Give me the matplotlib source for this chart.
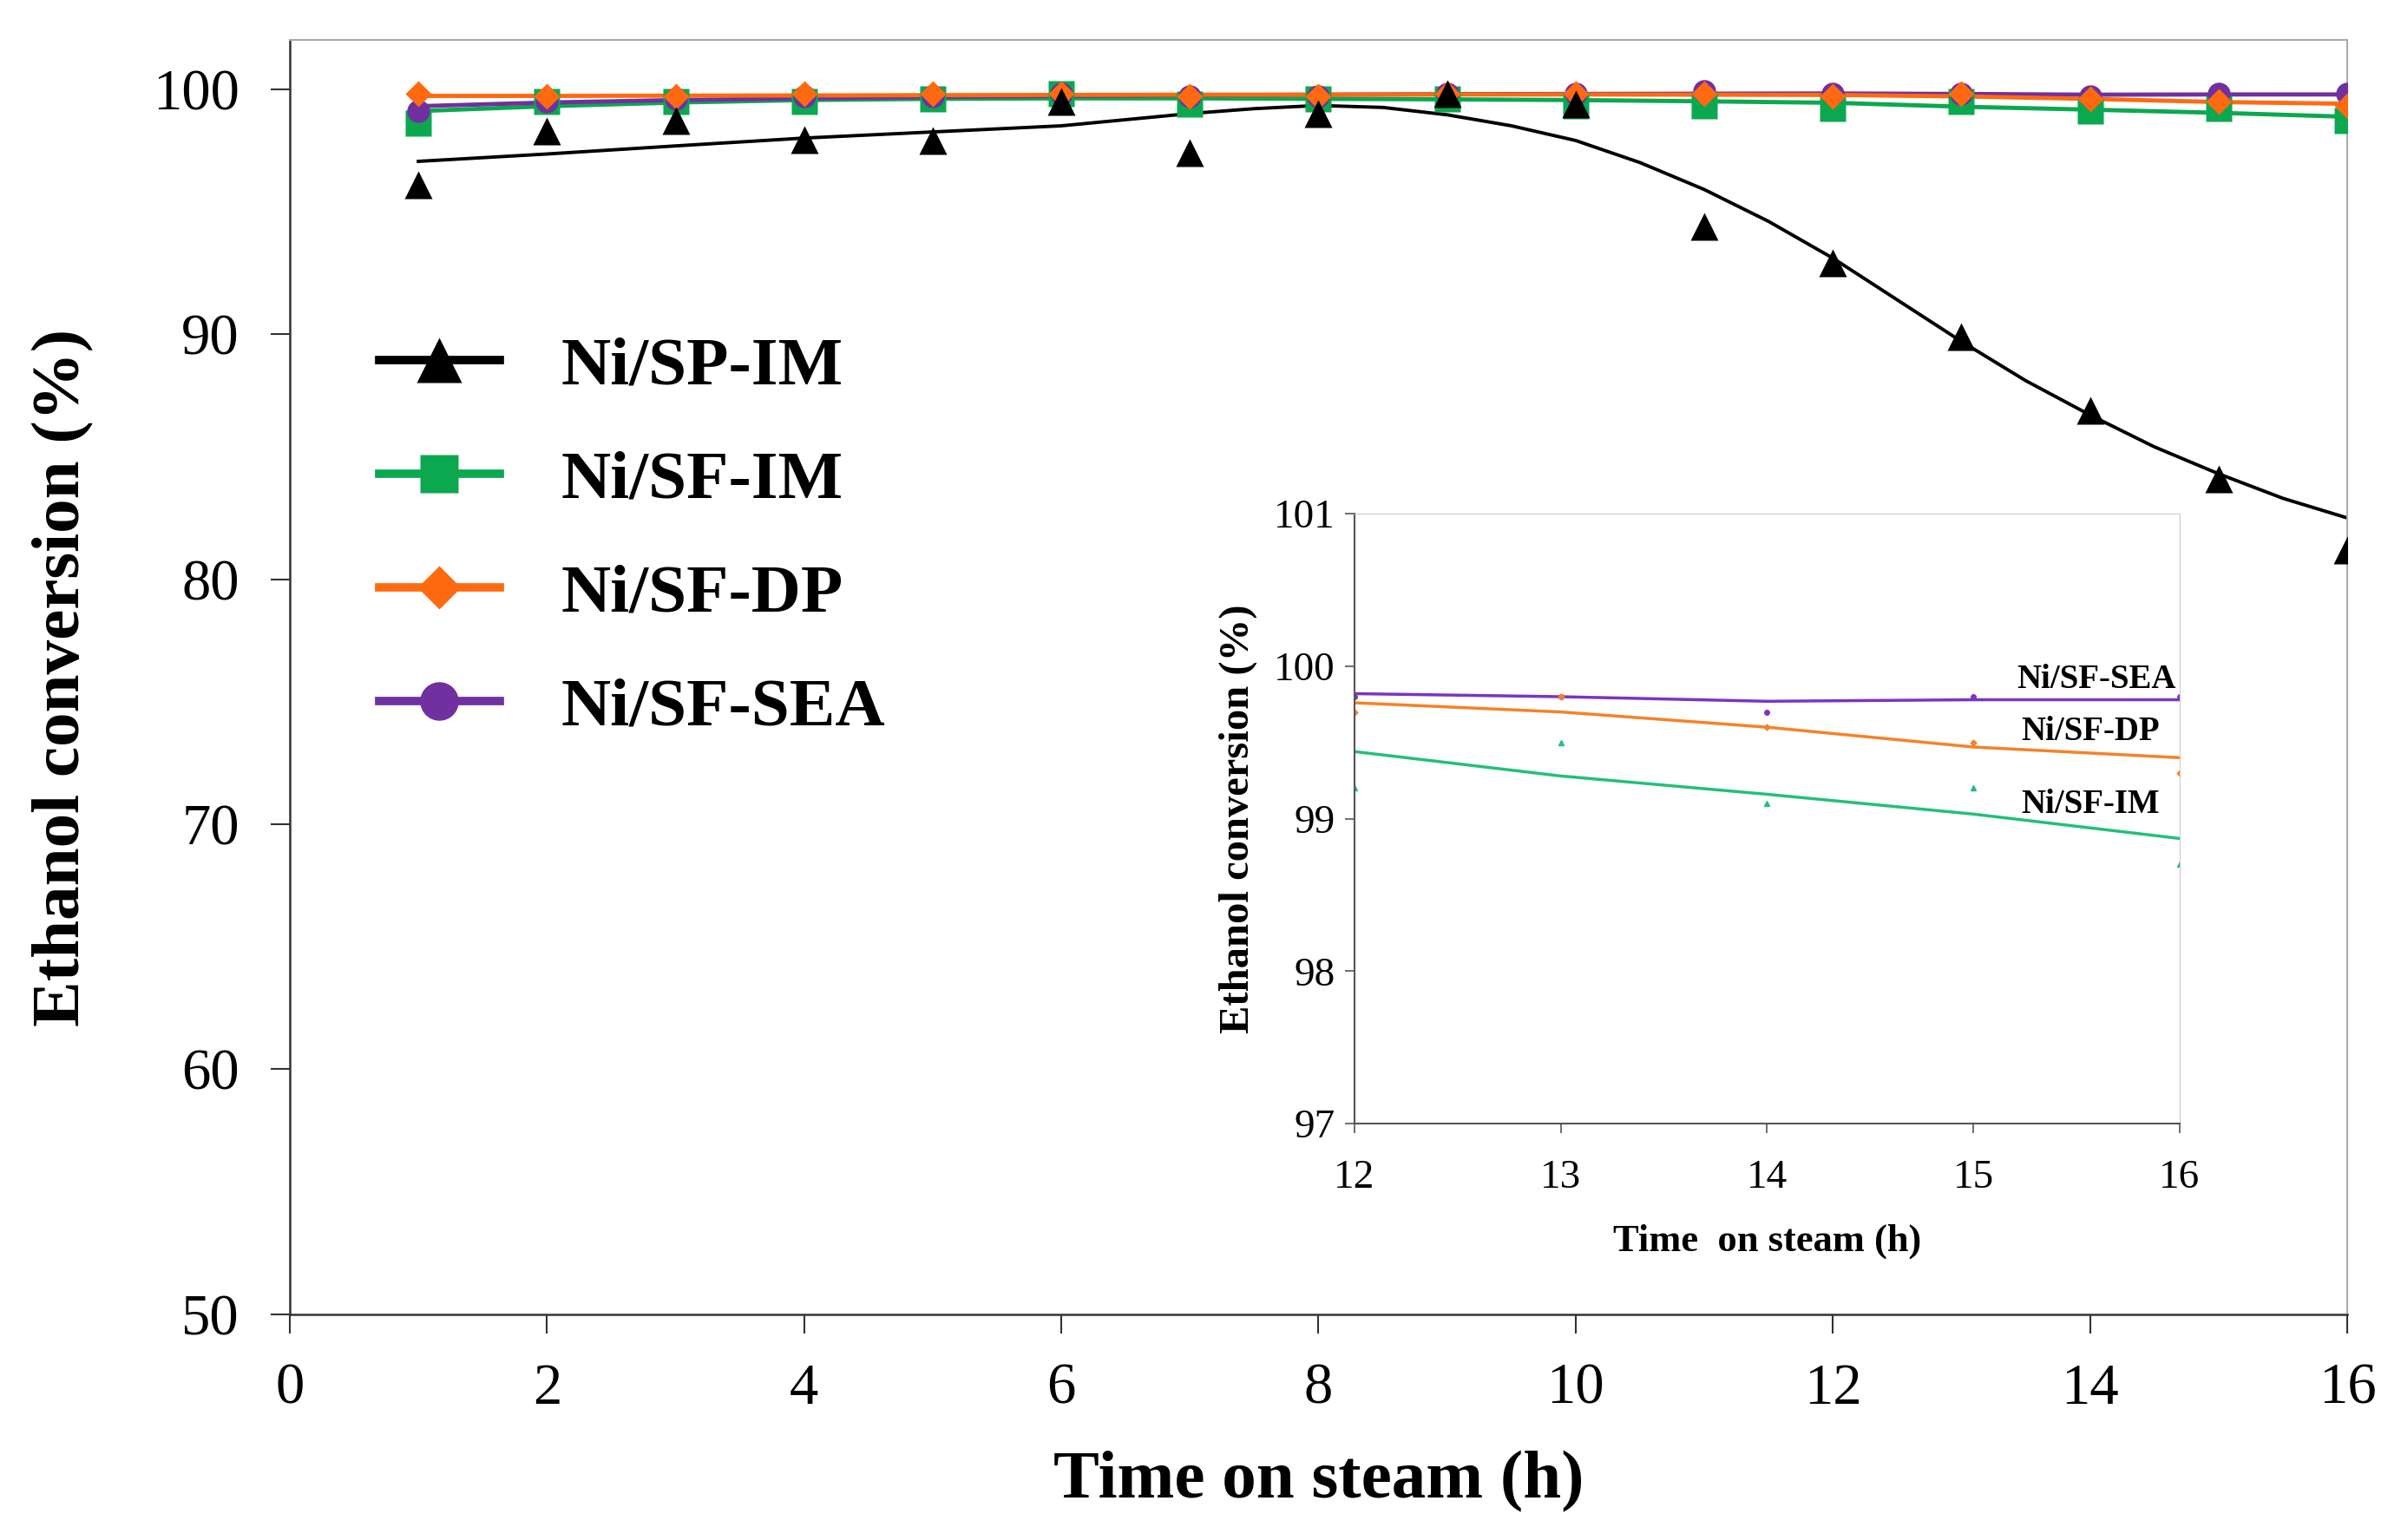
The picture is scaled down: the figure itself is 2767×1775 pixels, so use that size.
import matplotlib.pyplot as plt
from matplotlib.lines import Line2D

plt.rcParams['font.family'] = ['Liberation Serif', 'DejaVu Serif']

# measured points (time on steam, h)
hours = [1, 2, 3, 4, 5, 6, 7, 8, 9, 10, 11, 12, 13, 14, 15, 16]
sp_im = [96.1, 98.3, 98.7, 97.95, 97.9, 99.5, 97.4, 99.0, 99.8, 99.4, 94.4, 92.9, 89.9, 86.9, 84.1, 81.2]
sf_im = [98.6, 99.5, 99.5, 99.5, 99.6, 99.8, 99.4, 99.6, 99.6, 99.3, 99.3, 99.2, 99.5, 99.1, 99.2, 98.7]
sf_dp = [99.8, 99.7, 99.7, 99.8, 99.8, 99.8, 99.7, 99.7, 99.8, 99.8, 99.8, 99.7, 99.8, 99.6, 99.5, 99.3]
sf_sea = [99.1, 99.5, 99.6, 99.7, 99.7, 99.8, 99.7, 99.7, 99.8, 99.8, 99.9, 99.8, 99.8, 99.7, 99.8, 99.8]

# trend lines
sp_fit_x = [1, 2, 3, 4, 5, 6, 7, 7.5, 8, 8.5, 9, 9.5, 10, 10.5, 11, 11.5, 12, 12.5, 13, 13.5, 14, 14.5, 15, 15.5, 16]
sp_fit = [97.05, 97.35, 97.68, 98.0, 98.25, 98.5, 99.0, 99.2, 99.33, 99.25, 98.95, 98.5, 97.9, 97.0, 95.9,
          94.6, 93.1, 91.4, 89.7, 88.1, 86.7, 85.4, 84.3, 83.3, 82.5]
sf_im_fit = [99.1, 99.3, 99.45, 99.55, 99.6, 99.62, 99.62, 99.6, 99.58, 99.55, 99.5, 99.44, 99.28, 99.16, 99.03, 98.87]
sf_dp_fit = [99.72, 99.72, 99.73, 99.74, 99.75, 99.76, 99.77, 99.77, 99.78, 99.78, 99.77, 99.76, 99.7, 99.6, 99.47, 99.4]
sf_sea_fit = [99.3, 99.45, 99.55, 99.62, 99.68, 99.72, 99.75, 99.77, 99.79, 99.8, 99.81, 99.82, 99.8, 99.77, 99.78, 99.78]

# inset (12-16 h)
inset_hours = [12, 13, 14, 15, 16]
inset_sea = [99.8, 99.8, 99.7, 99.8, 99.8]
inset_dp = [99.7, 99.8, 99.6, 99.5, 99.3]
inset_im = [99.2, 99.5, 99.1, 99.2, 98.7]
inset_sea_fit = [99.82, 99.8, 99.77, 99.78, 99.78]
inset_dp_fit = [99.76, 99.7, 99.6, 99.47, 99.4]
inset_im_fit = [99.44, 99.28, 99.16, 99.03, 98.87]

labels = ['Ni/SP-IM', 'Ni/SF-IM', 'Ni/SF-DP', 'Ni/SF-SEA']
c_black = '#000000'
c_green = '#0BA850'
c_orange = '#FF6A10'
c_purple = '#7030A0'

fig = plt.figure(figsize=(27.67, 17.75), dpi=100)
ax = fig.add_axes([0.1207, 0.1465, 0.8569, 0.8275])

# fit lines
ax.plot(hours, sf_im_fit, color=c_green, lw=3.5, zorder=2)
ax.plot(hours, sf_sea_fit, color=c_purple, lw=3.5, zorder=2)
ax.plot(hours, sf_dp_fit, color=c_orange, lw=3.5, zorder=2)
ax.plot(sp_fit_x, sp_fit, color=c_black, lw=2.8, zorder=2)

# markers
ax.plot(hours, sf_im, ls='none', marker='s', ms=21, color=c_green, mec='none', zorder=3)
ax.plot(hours, sf_sea, ls='none', marker='o', ms=19, color=c_purple, mec='none', zorder=4)
ax.plot(hours, sf_dp, ls='none', marker='D', ms=15, color=c_orange, mec='none', zorder=5)
ax.plot(hours, sp_im, ls='none', marker='^', ms=23, color=c_black, mec='none', zorder=6)

ax.set_xlim(0, 16)
ax.set_ylim(50, 102)
ax.set_xticks(range(0, 17, 2))
ax.set_yticks(range(50, 101, 10))
ax.tick_params(direction='out', length=16, width=1.5, labelsize=48, color='#333333')
ax.tick_params(axis='y', pad=26)
ax.tick_params(axis='x', pad=24)

ax.spines['left'].set_color('#333333')
ax.spines['bottom'].set_color('#333333')
ax.spines['left'].set_linewidth(1.8)
ax.spines['bottom'].set_linewidth(1.8)
ax.spines['top'].set_color('#aaaaaa')
ax.spines['right'].set_color('#aaaaaa')
ax.spines['top'].set_linewidth(1.5)
ax.spines['right'].set_linewidth(1.5)

ax.set_xlabel('Time on steam (h)', fontsize=57, fontweight='bold')
ax.set_ylabel('Ethanol conversion (%)', fontsize=57, fontweight='bold')
ax.xaxis.set_label_coords(0.5, -0.107)
ax.yaxis.set_label_coords(-0.095, 0.5)

# legend
handles = [
    Line2D([], [], color=c_black, lw=7, marker='^', ms=38, mec='none'),
    Line2D([], [], color=c_green, lw=7, marker='s', ms=32, mec='none'),
    Line2D([], [], color=c_orange, lw=7, marker='D', ms=25, mec='none'),
    Line2D([], [], color=c_purple, lw=7, marker='o', ms=32, mec='none'),
]
ax.legend(handles, labels, loc='upper left', bbox_to_anchor=(0.158, 0.782), bbox_transform=fig.transFigure,
          frameon=False, prop={'size': 57, 'weight': 'bold'}, handlelength=1.75, handletextpad=0.9,
          labelspacing=0.74, borderpad=0, borderaxespad=0)

# inset
axi = fig.add_axes([0.5641, 0.2704, 0.3437, 0.3960])
axi.plot(inset_hours, inset_sea_fit, color='#7B35C0', lw=2.5)
axi.plot(inset_hours, inset_dp_fit, color='#F5822A', lw=2.5)
axi.plot(inset_hours, inset_im_fit, color='#22C07A', lw=2.5)
axi.plot(inset_hours, inset_sea, ls='none', marker='o', ms=4, color='#7B35C0')
axi.plot(inset_hours, inset_dp, ls='none', marker='D', ms=3.5, color='#F5822A')
axi.plot(inset_hours, inset_im, ls='none', marker='^', ms=5, color='#22C07A')

axi.set_xlim(12, 16)
axi.set_ylim(97, 101)
axi.set_xticks(inset_hours)
axi.set_yticks([97, 98, 99, 100, 101])
axi.tick_params(direction='out', length=8, width=1.2, labelsize=34, color='#555555')
axi.tick_params(axis='y', pad=8)
axi.tick_params(axis='x', pad=22)
axi.spines['left'].set_color('#555555')
axi.spines['bottom'].set_color('#555555')
axi.spines['top'].set_color('#cccccc')
axi.spines['right'].set_color('#cccccc')
axi.spines['left'].set_linewidth(1.5)
axi.spines['bottom'].set_linewidth(1.5)

axi.set_xlabel('Time  on steam (h)', fontsize=32, fontweight='bold')
axi.set_ylabel('Ethanol conversion (%)', fontsize=35, fontweight='bold')
axi.xaxis.set_label_coords(0.5, -0.164)
axi.yaxis.set_label_coords(-0.118, 0.5)

axi.text(15.21, 99.91, 'Ni/SF-SEA', fontsize=28, fontweight='bold', va='center', ha='left')
axi.text(15.23, 99.57, 'Ni/SF-DP', fontsize=28, fontweight='bold', va='center', ha='left')
axi.text(15.23, 99.09, 'Ni/SF-IM', fontsize=28, fontweight='bold', va='center', ha='left')

fig.savefig('out.png', dpi=100, facecolor='white')
